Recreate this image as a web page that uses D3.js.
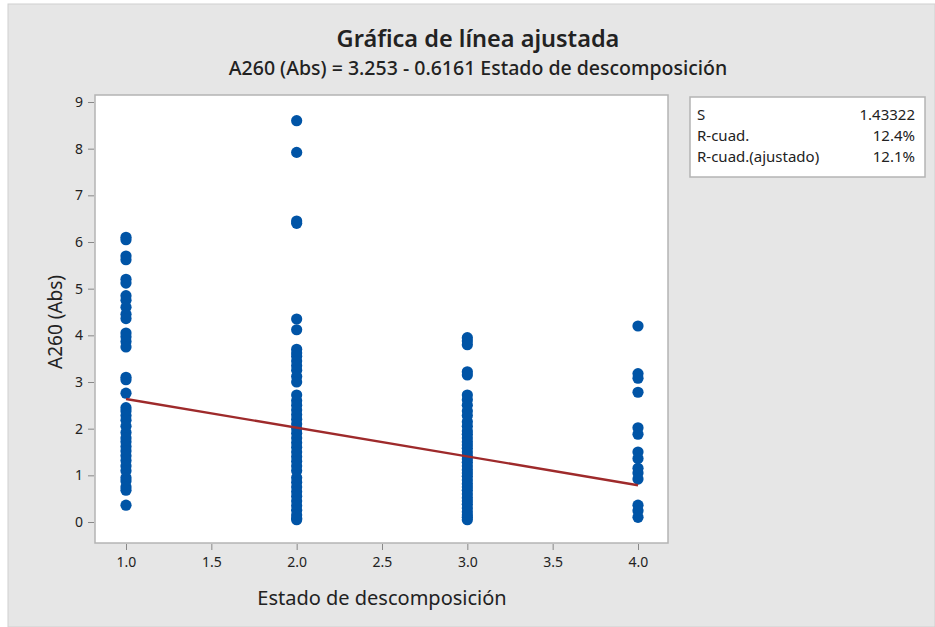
<!DOCTYPE html>
<html><head><meta charset="utf-8">
<script src="https://cdn.jsdelivr.net/npm/d3@7/dist/d3.min.js"></script>
<style>body{margin:0;background:#fff}svg{display:block}text{font-family:"Noto Sans","Open Sans",sans-serif;fill:#222}</style>
</head><body><svg id="c" width="935" height="627"></svg>
<script>
// Data
const estado1 = [6.1, 6.05, 5.7, 5.62, 5.2, 5.12, 4.85, 4.75, 4.6, 4.45, 4.36, 4.05, 3.97, 3.87, 3.75, 3.1, 3.05, 2.76, 2.45, 2.38, 2.28, 2.18, 2.05, 1.92, 1.8, 1.72, 1.62, 1.52, 1.42, 1.32, 1.2, 1.1, 0.95, 0.88, 0.75, 0.68, 0.36];
const estado2 = [8.6, 7.92, 6.45, 6.4, 4.35, 4.12, 3.7, 3.62, 3.55, 3.45, 3.35, 3.25, 3.12, 3.0, 2.72, 2.6, 2.5, 2.4, 2.3, 2.2, 2.1, 2.0, 1.9, 1.8, 1.7, 1.6, 1.5, 1.4, 1.3, 1.2, 1.1, 0.95, 0.85, 0.75, 0.65, 0.55, 0.45, 0.35, 0.25, 0.15, 0.08, 0.05];
const estado3 = [3.95, 3.88, 3.8, 3.22, 3.15, 2.72, 2.62, 2.5, 2.38, 2.28, 2.15, 2.05, 1.95, 1.88, 1.8, 1.72, 1.65, 1.58, 1.5, 1.42, 1.35, 1.28, 1.2, 1.12, 1.05, 0.98, 0.9, 0.82, 0.75, 0.68, 0.6, 0.52, 0.45, 0.38, 0.3, 0.22, 0.15, 0.1, 0.05];
const estado4 = [4.2, 3.18, 3.08, 2.78, 2.02, 1.88, 1.5, 1.36, 1.15, 1.05, 0.92, 0.36, 0.24, 0.1];
const groups = [1, 2, 3, 4];
const intercept = 3.253, slope = -0.6161;
const xTicks = [1.0, 1.5, 2.0, 2.5, 3.0, 3.5, 4.0];
const yTicks = [0, 1, 2, 3, 4, 5, 6, 7, 8, 9];
const stats = [["S", "1.43322"], ["R-cuad.", "12.4%"], ["R-cuad.(ajustado)", "12.1%"]];

const svg = d3.select("#c");
svg.append("rect").attr("x", 8).attr("y", 4).attr("width", 927).attr("height", 623)
  .attr("fill", "#e6e6e6").attr("stroke", "#d0d0d0");

const L = 95, R = 668, T = 95, B = 543;
const x = d3.scaleLinear().domain([1, 4]).range([126, 638]);
const y = d3.scaleLinear().domain([0, 9]).range([522, 102]);

svg.append("rect").attr("x", L).attr("y", T).attr("width", R - L).attr("height", B - T)
  .attr("fill", "#fff").attr("stroke", "#b4b4b4").attr("stroke-width", 1.5);

// axes
const yAx = svg.append("g").attr("transform", `translate(${L - 1},0)`)
  .call(d3.axisLeft(y).tickValues(yTicks).tickSize(6).tickPadding(5).tickFormat(d3.format("d")));
const xAx = svg.append("g").attr("transform", `translate(0,${B + 1})`)
  .call(d3.axisBottom(x).tickValues(xTicks).tickSize(6).tickPadding(7).tickFormat(d3.format(".1f")));
[yAx, xAx].forEach(g => {
  g.select(".domain").remove();
  g.selectAll(".tick line").attr("stroke", "#888");
  g.selectAll(".tick text").attr("font-size", 14).attr("fill", "#222")
    .style("font-family", '"Noto Sans","Open Sans",sans-serif');
});

// points
const data = [];
[estado1, estado2, estado3, estado4].forEach((arr, i) => arr.forEach(v => data.push({ x: groups[i], y: v })));
svg.append("g").selectAll("circle").data(data).join("circle")
  .attr("cx", d => x(d.x)).attr("cy", d => y(d.y)).attr("r", 5.6).attr("fill", "#0054a6");

// fitted line
svg.append("line").attr("x1", x(1)).attr("y1", y(intercept + slope * 1))
  .attr("x2", x(4)).attr("y2", y(intercept + slope * 4))
  .attr("stroke", "#9e2a2b").attr("stroke-width", 2.4);

// titles
svg.append("text").attr("x", 478).attr("y", 47).attr("text-anchor", "middle")
  .attr("font-size", 23.5).attr("font-weight", 600).text("Gráfica de línea ajustada");
svg.append("text").attr("x", 478).attr("y", 75).attr("text-anchor", "middle")
  .attr("font-size", 19.5).attr("font-weight", 500).text("A260 (Abs) = 3.253 - 0.6161 Estado de descomposición");
svg.append("text").attr("x", 382).attr("y", 605).attr("text-anchor", "middle")
  .attr("font-size", 20).text("Estado de descomposición");
svg.append("text").attr("transform", "translate(62,322) rotate(-90)").attr("text-anchor", "middle")
  .attr("font-size", 19).text("A260 (Abs)");

// stats box
svg.append("rect").attr("x", 690).attr("y", 97).attr("width", 235).attr("height", 80)
  .attr("fill", "#fff").attr("stroke", "#b4b4b4").attr("stroke-width", 1.5);
const rows = svg.append("g").selectAll("g").data(stats).join("g")
  .attr("transform", (d, i) => `translate(0,${120 + i * 21})`);
rows.append("text").attr("x", 697).attr("font-size", 15).text(d => d[0]);
rows.append("text").attr("x", 915).attr("text-anchor", "end").attr("font-size", 15).text(d => d[1]);
</script></body></html>
